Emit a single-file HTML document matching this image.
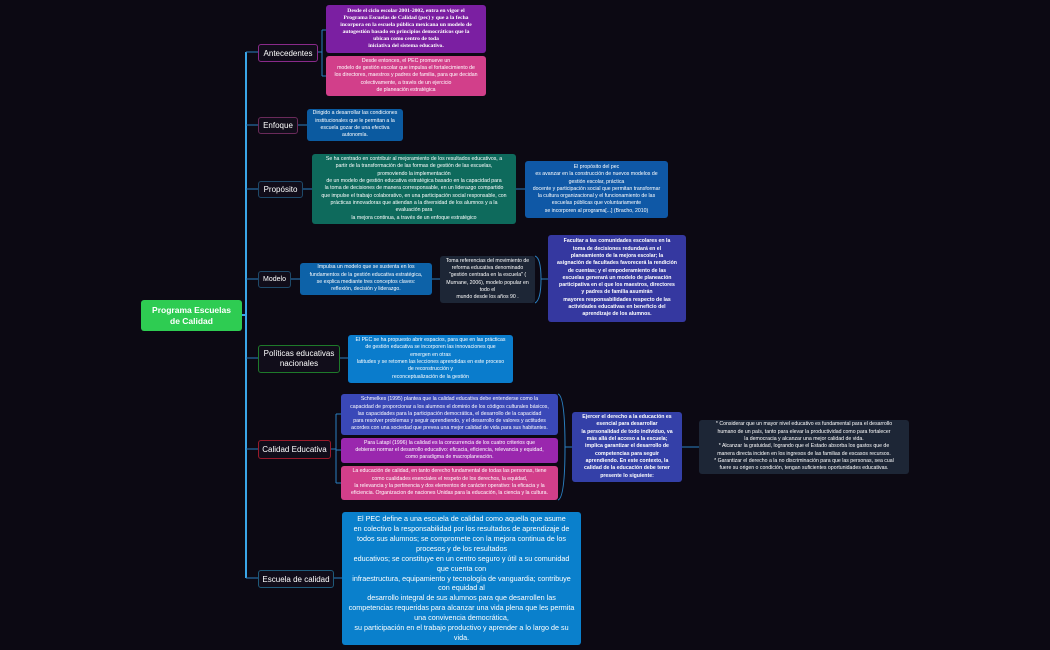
<!DOCTYPE html>
<html><head><meta charset="utf-8"><style>
body{margin:0;width:1050px;height:650px;background:#0c0913;overflow:hidden;position:relative;font-family:"Liberation Sans",sans-serif;color:#fff}
.n{position:absolute;box-sizing:border-box;text-align:center;display:flex;align-items:center;justify-content:center;border-radius:3px;white-space:nowrap}
.t{border:1px solid;background:#110d1a;font-size:8px;border-radius:3px}
.b{font-size:5.2px;line-height:7.3px;padding:1px 2px}
</style></head><body>
<svg width="1050" height="650" style="position:absolute;left:0;top:0" fill="none">
<g stroke="#3aa6e8" stroke-width="2"><path d="M242 315 H246 M246 52 V578"/></g>
<g stroke="#2a7fc0" stroke-width="1">
<path d="M246 52 H258 M246 125 H258 M246 189 H258 M246 279 H258 M246 358 H258 M246 449 H258 M246 578 H258"/>
<path d="M318 52 H322 M322 30 V76 M322 30 H326 M322 76 H326"/>
<path d="M298 125 H307 M303 189 H312 M516 189 H525 M291 279 H300 M432 279 H440 M340 358 H348"/>
<path d="M535 256 Q541 258 541 279 Q541 300 535 303 M541 279 H548"/>
<path d="M331 449 H336 M336 414 V483 M336 414 H341 M336 450 H341 M336 483 H341"/>
<path d="M558 394 Q565 396 565 447 Q565 498 558 500 M565 447 H572 M682 447 H699"/>
<path d="M334 578 H342"/>
</g></svg>
<div class="n" style="left:141px;top:300px;width:101px;height:31px;background:#2ecc52;font-size:8.5px;font-weight:bold;line-height:11px">Programa Escuelas<br>de Calidad</div>

<div class="n t" style="left:258px;top:44px;width:60px;height:18px;border-color:#8a2a8a">Antecedentes</div>
<div class="n b" style="left:326px;top:5px;width:160px;height:48px;background:#7b1fa2;font-family:'Liberation Serif',serif;font-weight:bold;font-size:5.6px;line-height:7px">Desde el ciclo escolar 2001-2002, entra en vigor el<br>Programa Escuelas de Calidad (pec) y que a la fecha<br>incorpora en la escuela pública mexicana un modelo de<br>autogestión basado en principios democráticos que la<br>ubican como centro de toda<br>iniciativa del sistema educativo.</div>
<div class="n b" style="left:326px;top:56px;width:160px;height:40px;background:#d23f8a">Desde entonces, el PEC promueve un<br>modelo de gestión escolar que impulsa el fortalecimiento de<br>los directores, maestros y padres de familia, para que decidan<br>colectivamente, a través de un ejercicio<br>de planeación estratégica</div>

<div class="n t" style="left:258px;top:117px;width:40px;height:17px;border-color:#6a2a5a">Enfoque</div>
<div class="n b" style="left:307px;top:109px;width:96px;height:32px;background:#0b5aa0">Dirigido a desarrollar las condiciones<br>institucionales que le permitan a la<br>escuela gozar de una efectiva<br>autonomía.</div>

<div class="n t" style="left:258px;top:181px;width:45px;height:17px;border-color:#1e4a6a">Propósito</div>
<div class="n b" style="left:312px;top:154px;width:204px;height:70px;background:#0e6a5c">Se ha centrado en contribuir al mejoramiento de los resultados educativos, a<br>partir de la transformación de las formas de gestión de las escuelas,<br>promoviendo la implementación<br>de un modelo de gestión educativa estratégica basado en la capacidad para<br>la toma de decisiones de manera corresponsable, en un liderazgo compartido<br>que impulse el trabajo colaborativo, en una participación social responsable, con<br>prácticas innovadoras que atiendan a la diversidad de los alumnos y a la<br>evaluación para<br>la mejora continua, a través de un enfoque estratégico</div>
<div class="n b" style="left:525px;top:161px;width:143px;height:57px;background:#0f58a6">El propósito del pec<br>es avanzar en la construcción de nuevos modelos de<br>gestión escolar, práctica<br>docente y participación social que permitan transformar<br>la cultura organizacional y el funcionamiento de las<br>escuelas públicas que voluntariamente<br>se incorporen al programa[...] (Bracho, 2010)</div>

<div class="n t" style="left:258px;top:271px;width:33px;height:17px;border-color:#1e4a6a;font-size:7px">Modelo</div>
<div class="n b" style="left:300px;top:263px;width:132px;height:32px;background:#0d62a8">Impulsa un modelo que se sustenta en los<br>fundamentos de la gestión educativa estratégica,<br>se explica mediante tres conceptos claves:<br>reflexión, decisión y liderazgo.</div>
<div class="n b" style="left:440px;top:256px;width:95px;height:47px;background:#1d2636">Toma referencias del movimiento de<br>reforma educativa denominado<br>"gestión centrada en la escuela" (<br>Murnane, 2006), modelo popular en<br>todo el<br>mundo desde los años 90 .</div>
<div class="n b" style="left:548px;top:235px;width:138px;height:87px;background:#3538a0;font-weight:bold">Facultar a las comunidades escolares en la<br>toma de decisiones redundará en el<br>planeamiento de la mejora escolar;  la<br>asignación de facultades favorecerá la rendición<br>de cuentas; y el empoderamiento de las<br>escuelas generará un modelo de planeación<br>participativa en el que los maestros, directores<br>y padres de familia asumirán<br>mayores responsabilidades respecto de las<br>actividades educativas en beneficio del<br>aprendizaje de los alumnos.</div>

<div class="n t" style="left:258px;top:345px;width:82px;height:28px;border-color:#1e7a2a;line-height:10px">Políticas educativas<br>nacionales</div>
<div class="n b" style="left:348px;top:335px;width:165px;height:48px;background:#0a7ccc">El PEC se ha propuesto abrir espacios, para que en las prácticas<br>de gestión educativa se incorporen las innovaciones que<br>emergen en otras<br>latitudes y se retomen las lecciones aprendidas en este proceso<br>de reconstrucción y<br>reconceptualización de la gestión</div>

<div class="n t" style="left:258px;top:440px;width:73px;height:19px;border-color:#9a1a2a">Calidad Educativa</div>
<div class="n b" style="left:341px;top:394px;width:217px;height:41px;background:#3a48b8">Schmelkes (1995) plantea que la calidad educativa debe entenderse como la<br>capacidad de proporcionar a los alumnos el dominio de los códigos culturales básicos,<br>las capacidades para la participación democrática, el desarrollo de la capacidad<br>para resolver problemas y seguir aprendiendo, y el desarrollo de valores y actitudes<br>acordes con una sociedad que prevea una mejor calidad de vida para sus habitantes.</div>
<div class="n b" style="left:341px;top:438px;width:217px;height:25px;background:#9a27ae">Para Latapí (1996) la calidad es la concurrencia de los cuatro criterios que<br>debieran normar el desarrollo educativo: eficacia, eficiencia, relevancia y equidad,<br>como paradigma de macroplaneación.</div>
<div class="n b" style="left:341px;top:466px;width:217px;height:34px;background:#d23f8a">La educación de calidad, en tanto derecho fundamental de todas las personas, tiene<br>como cualidades esenciales el respeto de los derechos, la equidad,<br>la relevancia y la pertinencia y dos elementos de carácter operativo: la eficacia y la<br>eficiencia.  Organizacion de naciones Unidas para la educación, la ciencia y la cultura.</div>
<div class="n b" style="left:572px;top:412px;width:110px;height:70px;background:#3440a8;font-weight:bold">Ejercer el derecho a la educación es<br>esencial para desarrollar<br>la personalidad de todo individuo, va<br>más allá del acceso a la escuela;<br>implica garantizar el desarrollo de<br>competencias para seguir<br>aprendiendo. En este contexto, la<br>calidad de la educación debe tener<br>presente lo siguiente:</div>
<div class="n b" style="left:699px;top:420px;width:210px;height:54px;background:#1d2636">* Considerar que un mayor nivel educativo es fundamental para el desarrollo<br>humano de un país, tanto para elevar la productividad como para fortalecer<br>la democracia y alcanzar una mejor calidad de vida.<br>* Alcanzar la gratuidad, logrando que el Estado absorba los gastos que de<br>manera directa inciden en los ingresos de las familias de escasos recursos.<br>* Garantizar el derecho a la no discriminación para que las personas, sea cual<br>fuere su origen o condición, tengan suficientes oportunidades educativas.</div>

<div class="n t" style="left:258px;top:570px;width:76px;height:18px;border-color:#1e5a7a">Escuela de calidad</div>
<div class="n" style="left:342px;top:512px;width:239px;height:133px;background:#0a80cc;font-size:7.2px;line-height:9.9px;padding:0 2px">El PEC define a una escuela de calidad como aquella que asume<br>en colectivo la responsabilidad por los resultados de aprendizaje de<br>todos sus alumnos; se compromete con la mejora continua de los<br>procesos y de los resultados<br>educativos; se constituye en un centro seguro y útil a su comunidad<br>que cuenta con<br>infraestructura, equipamiento y tecnología de vanguardia; contribuye<br>con equidad al<br>desarrollo integral de sus alumnos para que desarrollen las<br>competencias requeridas para alcanzar una vida plena que les permita<br>una convivencia democrática,<br>su participación en el trabajo productivo y aprender a lo largo de su<br>vida.</div>
</body></html>
